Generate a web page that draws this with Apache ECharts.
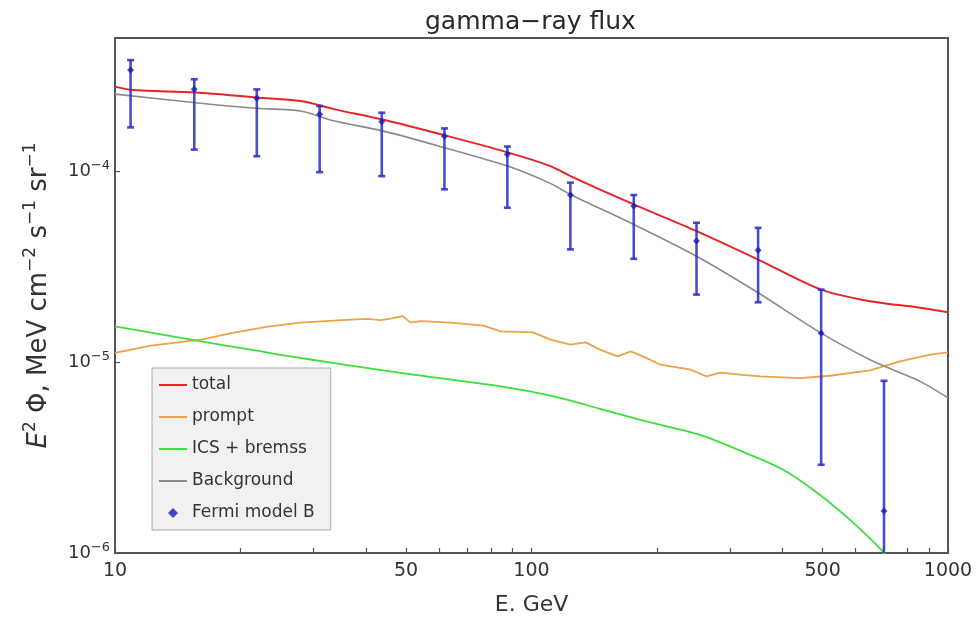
<!DOCTYPE html>
<html><head><meta charset="utf-8">
<script src="https://cdn.jsdelivr.net/npm/echarts@6/dist/echarts.min.js"></script>
<style>html,body{margin:0;padding:0;background:#fff}#c{width:978px;height:617px}</style>
</head><body><div id="c"></div>
<script>
// ---- data ----
const titleText = 'gamma\u2212ray flux';
const xName = 'E. GeV';
const xLabelValues = [10, 50, 100, 500, 1000];
const xTickValues = [10, 20, 30, 40, 50, 60, 70, 80, 90, 100, 200, 300, 400, 500, 600, 700, 800, 900, 1000];
const yLabelValues = [1e-6, 1e-5, 1e-4];

const totalE = [10, 11, 15.6, 21.9, 27.9, 31.0, 33.5, 43.9, 61.9, 87.6, 111, 124, 176, 249, 350, 496, 650, 857, 1000];
const totalF = [2.78e-4, 2.67e-4, 2.59e-4, 2.44e-4, 2.34e-4, 2.22e-4, 2.12e-4, 1.87e-4, 1.545e-4, 1.258e-4, 1.066e-4, 9.45e-5, 6.71e-5, 4.86e-5, 3.45e-5, 2.40e-5, 2.085e-5, 1.93e-5, 1.825e-5];

const promptE = [10, 12.2, 16.1, 19.3, 23.3, 27.9, 33.5, 36.8, 40.4, 43.5, 45.9, 49.0, 51.3, 54.2, 63.9, 76.7, 84.3, 101, 111, 124, 135, 146, 161, 173, 188, 204, 241, 263, 284, 317, 354, 442, 521, 650, 767, 905, 1000];
const promptF = [1.12e-5, 1.221e-5, 1.313e-5, 1.428e-5, 1.536e-5, 1.612e-5, 1.651e-5, 1.672e-5, 1.686e-5, 1.661e-5, 1.691e-5, 1.744e-5, 1.612e-5, 1.641e-5, 1.612e-5, 1.554e-5, 1.451e-5, 1.434e-5, 1.313e-5, 1.236e-5, 1.27e-5, 1.163e-5, 1.073e-5, 1.14e-5, 1.056e-5, 9.70e-6, 9.13e-6, 8.42e-6, 8.81e-6, 8.60e-6, 8.42e-6, 8.26e-6, 8.49e-6, 9.06e-6, 1.01e-5, 1.095e-5, 1.126e-5];

const icsE = [10, 16.1, 21.2, 27.9, 48.5, 84.3, 111, 146, 193, 254, 335, 402, 485, 582, 698, 740];
const icsF = [1.541e-5, 1.286e-5, 1.163e-5, 1.052e-5, 8.78e-6, 7.46e-6, 6.67e-6, 5.70e-6, 4.83e-6, 4.16e-6, 3.27e-6, 2.73e-6, 2.07e-6, 1.49e-6, 1.016e-6, 0.85e-6];

const bgE = [10, 15.6, 21.9, 27.9, 33.5, 43.9, 61.9, 87.6, 111, 124, 176, 249, 350, 496, 650, 767, 857, 1000];
const bgF = [2.54e-4, 2.29e-4, 2.14e-4, 2.07e-4, 1.84e-4, 1.63e-4, 1.33e-4, 1.066e-4, 8.65e-5, 7.57e-5, 5.27e-5, 3.59e-5, 2.31e-5, 1.42e-5, 1.03e-5, 8.81e-6, 7.93e-6, 6.51e-6];

const fermiE = [10.9, 15.5, 21.9, 31, 43.7, 61.8, 87.5, 124, 176, 249, 350, 496, 702];
const fermiF = [3.40e-4, 2.69e-4, 2.42e-4, 1.99e-4, 1.82e-4, 1.53e-4, 1.23e-4, 7.52e-5, 6.58e-5, 4.31e-5, 3.86e-5, 1.42e-5, 1.66e-6];
const fermiLo = [1.70e-4, 1.30e-4, 1.20e-4, 0.99e-4, 0.944e-4, 0.805e-4, 0.645e-4, 3.90e-5, 3.48e-5, 2.26e-5, 2.06e-5, 2.90e-6, 3e-7];
const fermiHi = [3.83e-4, 3.04e-4, 2.69e-4, 2.20e-4, 2.03e-4, 1.68e-4, 1.35e-4, 8.73e-5, 7.52e-5, 5.38e-5, 5.06e-5, 2.40e-5, 7.99e-6];

const names = ['total', 'prompt', 'ICS + bremss', 'Background', 'Fermi model B'];
// ---- end data ----

const zip = (a, b) => a.map((v, i) => [v, b[i]]);
const FONT = 'DejaVu Sans';
const chart = echarts.init(document.getElementById('c'), null, {renderer: 'canvas'});

const option = {
  backgroundColor: '#ffffff',
  animation: false,
  title: {
    text: titleText, left: 425, top: 10, padding: 0,
    textStyle: {fontFamily: FONT, fontSize: 25, fontWeight: 'normal', color: '#2a2a2a'}
  },
  grid: {left: 115, right: 30, top: 38, bottom: 64, outerBoundsMode: 'none', containLabel: false,
    show: true, borderColor: '#555', borderWidth: 2},
  legend: {
    orient: 'vertical', left: 152, top: 368, padding: [8, 16, 8, 6],
    itemGap: 14, itemWidth: 28, itemHeight: 10, symbolKeepAspect: true,
    backgroundColor: '#f1f1f1', borderColor: '#aaa', borderWidth: 1,
    textStyle: {fontFamily: FONT, fontSize: 17, color: '#333', lineHeight: 18},
    data: [
      {name: names[0], itemStyle: {opacity: 0}},
      {name: names[1], itemStyle: {opacity: 0}},
      {name: names[2], itemStyle: {opacity: 0}},
      {name: names[3], itemStyle: {opacity: 0}},
      {name: names[4], icon: 'path://M5,0 L10,5 L5,10 L0,5 Z'}
    ]
  },
  xAxis: {
    type: 'log', logBase: 10, min: 10, max: 1000,
    name: xName, nameLocation: 'middle', nameGap: 41,
    nameTextStyle: {fontFamily: FONT, fontSize: 22, color: '#333'},
    axisLine: {show: true, onZero: false, lineStyle: {color: '#555', width: 2}},
    axisTick: {show: true, inside: true, length: 5, customValues: xTickValues, lineStyle: {color: '#555', width: 1.2}},
    minorTick: {show: false},
    axisLabel: {customValues: xLabelValues, margin: 9, fontFamily: FONT, fontSize: 19, color: '#333',
      formatter: v => String(Math.round(v))},
    splitLine: {show: false}
  },
  yAxis: {
    type: 'log', logBase: 10, min: 1e-6, max: 5e-4,
    name: '{i|E}{s|2} \u03A6, MeV cm{s|\u22122} s{s|\u22121} sr{s|\u22121}',
    nameLocation: 'middle', nameRotate: 90, nameGap: 59,
    nameTextStyle: {fontFamily: FONT, fontSize: 26, color: '#333', lineHeight: 34,
      rich: {
        i: {fontFamily: FONT, fontSize: 26, fontStyle: 'italic', color: '#333', lineHeight: 34},
        s: {fontFamily: FONT, fontSize: 17, color: '#333', lineHeight: 18, verticalAlign: 'top'}
      }},
    axisLine: {show: true, onZero: false, lineStyle: {color: '#555', width: 2}},
    axisTick: {show: true, inside: true, length: 5, customValues: yLabelValues, lineStyle: {color: '#555', width: 1.2}},
    axisLabel: {customValues: yLabelValues, margin: 5, color: '#333',
      formatter: v => '{b|10}{s|' + String(Math.round(Math.log10(v))).replace('-', '\u2212') + '}',
      rich: {
        b: {fontFamily: FONT, fontSize: 18, color: '#333', lineHeight: 24},
        s: {fontFamily: FONT, fontSize: 13, color: '#333', lineHeight: 13, verticalAlign: 'top'}
      }},
    splitLine: {show: false}
  },
  series: [
    {name: names[0], type: 'line', data: zip(totalE, totalF), symbol: 'none', smooth: 0.3,
      lineStyle: {color: '#e8232a', width: 2}, itemStyle: {color: '#e8232a'}, z: 3},
    {name: names[1], type: 'line', data: zip(promptE, promptF), symbol: 'none',
      lineStyle: {color: '#eba447', width: 1.8}, itemStyle: {color: '#eba447'}, z: 2},
    {name: names[2], type: 'line', data: zip(icsE, icsF), symbol: 'none', smooth: 0.3,
      lineStyle: {color: '#3be03b', width: 1.8}, itemStyle: {color: '#3be03b'}, z: 2},
    {name: names[3], type: 'line', data: zip(bgE, bgF), symbol: 'none', smooth: 0.3,
      lineStyle: {color: '#8a8a8a', width: 1.6}, itemStyle: {color: '#8a8a8a'}, z: 2},
    {name: 'errors', type: 'custom', clip: true, z: 4,
      data: fermiE.map((e, i) => [e, fermiLo[i], fermiHi[i]]),
      encode: {x: 0, y: [1, 2]},
      renderItem: (params, api) => {
        const x = api.value(0);
        const lo = api.coord([x, api.value(1)]);
        const hi = api.coord([x, api.value(2)]);
        const hw = 3.5;
        const st = {stroke: 'rgba(45,45,200,0.85)', lineWidth: 2.6};
        return {type: 'group', children: [
          {type: 'line', shape: {x1: lo[0], y1: lo[1], x2: hi[0], y2: hi[1]}, style: st},
          {type: 'line', shape: {x1: lo[0] - hw, y1: lo[1], x2: lo[0] + hw, y2: lo[1]}, style: st},
          {type: 'line', shape: {x1: hi[0] - hw, y1: hi[1], x2: hi[0] + hw, y2: hi[1]}, style: st}
        ]};
      }},
    {name: names[4], type: 'scatter', data: zip(fermiE, fermiF), symbol: 'diamond', symbolSize: 7,
      symbolKeepAspect: true, itemStyle: {color: '#1a1ab4'}, z: 5}
  ]
};
chart.setOption(option);
</script>
</body></html>
